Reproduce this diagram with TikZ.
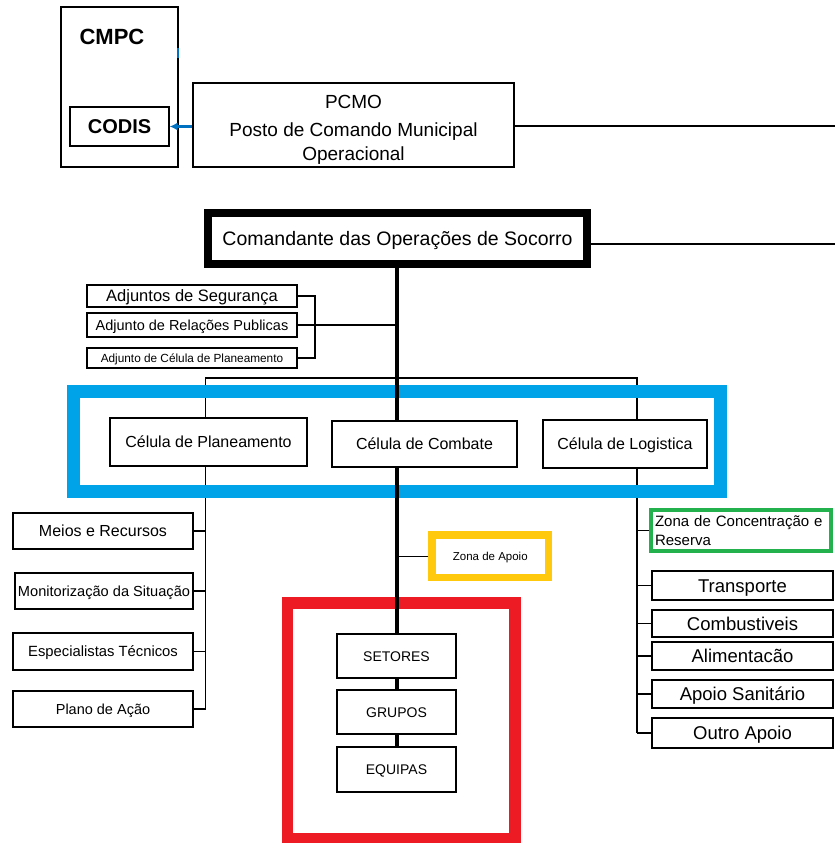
\documentclass[tikz,border=0pt]{standalone}
\usepackage{fontspec}
\setmainfont{Liberation Sans}
\usetikzlibrary{arrows.meta}
\definecolor{cellblue}{RGB}{0,162,232}
\definecolor{opsred}{RGB}{237,28,36}
\definecolor{zoneyellow}{RGB}{255,201,14}
\definecolor{zonegreen}{RGB}{34,177,76}
\definecolor{linkblue}{RGB}{0,112,192}
\begin{document}
\begin{tikzpicture}[x=1pt,y=-1pt,
  box/.style={draw, line width=1.2pt, inner sep=0pt, align=center},
  sz/.style={font=\fontsize{#1}{#1}\selectfont, text height=#1*0.716pt, text depth=0pt},
  bsz/.style={font=\bfseries\fontsize{#1}{#1}\selectfont, text height=#1*0.716pt, text depth=0pt},
  wire/.style={line width=1.3pt},
  spine/.style={line width=3.2pt},
  frame/.style={draw, inner sep=0pt}]

\useasboundingbox (0,0) rectangle (835,843);

% guide coordinates for the vertical trunks
\coordinate (spx)  at (397,0);
\coordinate (lcol) at (205.5,0);
\coordinate (rcol) at (637,0);
\coordinate (bx)   at (315,0);
\coordinate (hub)  at (397,378);
\coordinate (pcmoR) at (835,126);
\coordinate (cosR)  at (835,244);
\coordinate (tickA) at (178,48);
\coordinate (tickB) at (178,58);

% ---- top: CMPC / CODIS / PCMO ----
\node[box, minimum width=117pt, minimum height=160pt] (cmpc) at (119.5,87) {};
\node[bsz=22, inner sep=0pt] (cmpclbl) at (112,36.5) {CMPC};
\node[box, minimum width=99pt, minimum height=39pt, bsz=20] (codis) at (119.5,126.5) {CODIS};
\node[box, minimum width=321pt, minimum height=84pt] (pcmo) at (353.5,125) {};
\node[align=center, font=\fontsize{19}{23.5}\selectfont, inner sep=0pt] (pcmolbl) at (353.5,129.5)
  {PCMO\\[5pt]Posto de Comando Municipal\\Operacional};
\draw[linkblue, line width=1.5pt] (tickA) -- (tickB);
\draw[linkblue, line width=2.5pt, -{Latex[length=8pt,width=8pt]}] (pcmo.west |- codis.east) -- (codis.east);
\draw[wire] (pcmo.east |- pcmoR) -- (pcmoR);

% ---- commander ----
\node[box, line width=8pt, minimum width=379pt, minimum height=51pt, sz=19.5] (cos) at (397.5,238.5)
  {Comandante das Operações de Socorro};
\draw[wire] (cos.east |- cosR) -- (cosR);

% ---- adjuntos ----
\node[box, minimum width=210pt, minimum height=22pt, sz=16.5] (adj1) at (192,296) {Adjuntos de Segurança};
\node[box, minimum width=210pt, minimum height=24pt, sz=14.5] (adj2) at (192,325) {Adjunto de Relações Publicas};
\node[box, minimum width=210pt, minimum height=20pt, sz=11.8] (adj3) at (192,358) {Adjunto de Célula de Planeamento};
\draw[wire] (adj1.east) -| (bx |- adj3.east) -- (adj3.east);
\draw[wire] (adj2.east) -- (adj2.east -| spx);

% ---- cells ----
\node[box, minimum width=197pt, minimum height=48pt, sz=16] (plan) at (208.5,442) {Célula de Planeamento};
\node[box, minimum width=185pt, minimum height=46pt, sz=16] (combat) at (424.5,444) {Célula de Combate};
\node[box, minimum width=164pt, minimum height=48pt, sz=16] (logi) at (625,444) {Célula de Logistica};
\draw[wire] (plan.north -| lcol) |- (hub) -| (logi.north -| rcol);

% ---- planning column ----
\node[box, minimum width=180pt, minimum height=36pt, sz=16] (meios) at (103,531) {Meios e Recursos};
\node[box, minimum width=178pt, minimum height=36pt, sz=14.6] (monit) at (104,591) {Monitorização da Situação};
\node[box, minimum width=180pt, minimum height=37pt, sz=14.8] (espec) at (103,651.5) {Especialistas Técnicos};
\node[box, minimum width=180pt, minimum height=36pt, sz=14.5] (plano) at (103,709) {Plano de Ação};
\draw[wire] (plan.south -| lcol) -- (plano.east -| lcol);
\foreach \n in {meios,monit,espec,plano} \draw[wire] (\n.east) -- (\n.east -| lcol);

% ---- logistics column ----
\node[draw=zonegreen, line width=4pt, inner xsep=4pt, inner ysep=0pt, text width=172pt, align=left,
      minimum height=41pt, font=\fontsize{15}{19}\selectfont] (zcr) at (741,530.5)
  {Zona de Concentração e\\Reserva};
\node[box, minimum width=181pt, minimum height=29pt, sz=18.5] (trans) at (742.5,585.5) {Transporte};
\node[box, minimum width=181pt, minimum height=27pt, sz=18.5] (comb) at (742.5,623.5) {Combustiveis};
\node[box, minimum width=181pt, minimum height=28pt, sz=18.5] (alim) at (742.5,656) {Alimentacão};
\node[box, minimum width=181pt, minimum height=28pt, sz=18.5] (apoio) at (742.5,694) {Apoio Sanitário};
\node[box, minimum width=181pt, minimum height=30pt, sz=18.5] (outro) at (742.5,733) {Outro Apoio};
\draw[wire] (logi.south -| rcol) -- (outro.west -| rcol);
\foreach \n in {zcr,trans,comb,alim,apoio,outro} \draw[wire] (\n.west) -- (\n.west -| rcol);

% ---- coloured group frames ----
\node[frame, draw=cellblue, line width=13pt, minimum width=646.5pt, minimum height=100pt] (cells) at (396.75,441.5) {};
\node[frame, draw=opsred, line width=11.75pt, minimum width=227.5pt, minimum height=235.5pt] (ops) at (401.25,720.75) {};

% ---- support zone ----
\node[draw=zoneyellow, line width=7.5pt, inner sep=0pt, minimum width=116.7pt, minimum height=42.5pt,
      sz=11.5] (zona) at (490.3,556.3) {Zona de Apoio};
\draw[wire] (zona.west) -- (zona.west -| spx);

% ---- field units ----
\node[box, minimum width=119pt, minimum height=44pt, sz=14] (setores) at (396.5,656) {SETORES};
\node[box, minimum width=119pt, minimum height=44pt, sz=14] (grupos) at (396.5,712) {GRUPOS};
\node[box, minimum width=119pt, minimum height=45pt, sz=14] (equipas) at (396.5,769.5) {EQUIPAS};

% ---- main trunk ----
\draw[spine] (cos.south -| spx) -- (combat.north -| spx);
\draw[spine] (combat.south -| spx) -- (setores.north -| spx);
\draw[spine] (setores.south -| spx) -- (grupos.north -| spx);
\draw[spine] (grupos.south -| spx) -- (equipas.north -| spx);
\end{tikzpicture}
\end{document}
